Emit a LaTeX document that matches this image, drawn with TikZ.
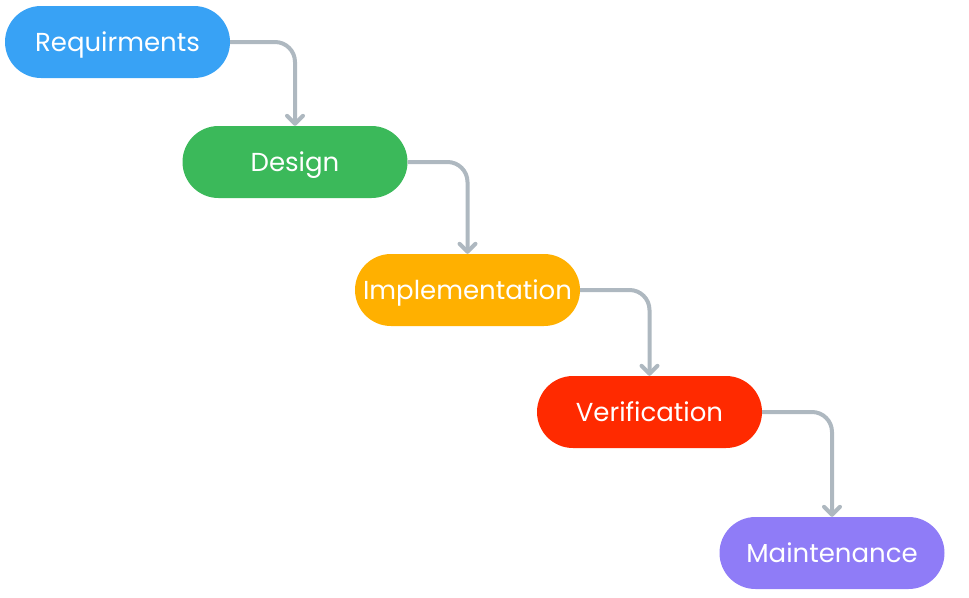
\documentclass[tikz,border=0pt]{standalone}
\usepackage{fontspec}
\setmainfont{Poppins}
\usetikzlibrary{arrows.meta}
\definecolor{reqblue}{HTML}{38A2F5}
\definecolor{desgreen}{HTML}{3BB95A}
\definecolor{impyellow}{HTML}{FFB000}
\definecolor{verred}{HTML}{FF2A00}
\definecolor{maipurple}{HTML}{8F7CF7}
\definecolor{flowgray}{HTML}{AEB8C0}
\begin{document}
\begin{tikzpicture}[x=1pt,y=-1pt,
  phase/.style={rounded corners=36pt, minimum width=225pt, minimum height=72pt,
    text=white, font=\fontsize{26}{30}\selectfont, inner sep=0pt,
    text height=19pt, text depth=0pt},
  flow/.style={draw=flowgray, line width=4pt, rounded corners=20pt,
    -{Straight Barb[length=8pt,width=16pt,round]}}]
\useasboundingbox (0,0) rectangle (969,597);
\node [phase, fill=reqblue] (req) at (117.5,42) {Requirments};
\node [phase, fill=desgreen] (des) at (295,162) {Design};
\node [phase, fill=impyellow] (imp) at (467.5,290) {Implementation};
\node [phase, fill=verred] (ver) at (649.5,412) {Verification};
\node [phase, fill=maipurple] (mai) at (832,553) {Maintenance};
% connectors
\draw [flow] (req.east) -| (des.north);
\draw [flow] (des.east) -| (imp.north);
\draw [flow] (imp.east) -| (ver.north);
\draw [flow] (ver.east) -| (mai.north);
\end{tikzpicture}
\end{document}
